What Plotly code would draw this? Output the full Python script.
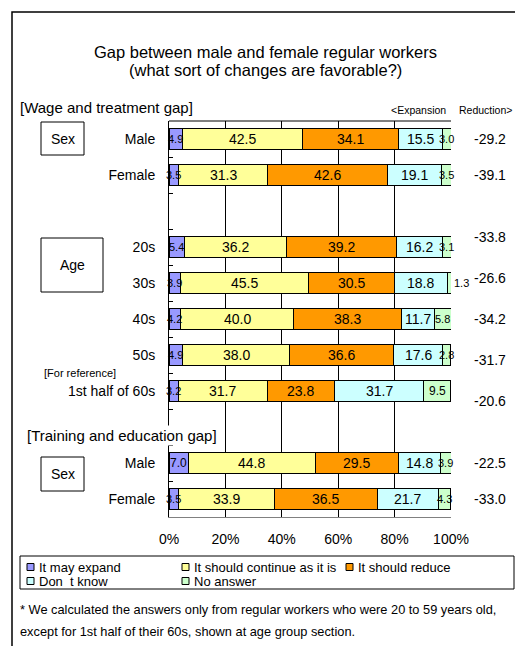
import plotly.graph_objects as go

# answers (stack order, left to right)
answer_labels = ["It may expand", "It should continue as it is", "It should reduce",
                 "Don\u00a0 t know", "No answer"]
colors = ["#9999FF", "#FFFF99", "#FF9900", "#CCFFFF", "#CCFFCC"]

# row groups, a blank row is left between groups
groups = [
    ("Wage and treatment - sex", ["Male", "Female"]),
    ("Wage and treatment - age", ["20s", "30s", "40s", "50s", "1st half of 60s"]),
    ("Training and education - sex", ["Male", "Female"]),
]

may_expand     = [4.9, 3.5, 5.4, 3.9, 4.2, 4.9, 3.2, 7.0, 3.5]
continue_as_is = [42.5, 31.3, 36.2, 45.5, 40.0, 38.0, 31.7, 44.8, 33.9]
should_reduce  = [34.1, 42.6, 39.2, 30.5, 38.3, 36.6, 23.8, 29.5, 36.5]
dont_know      = [15.5, 19.1, 16.2, 18.8, 11.7, 17.6, 31.7, 14.8, 21.7]
no_answer      = [3.0, 3.5, 3.1, 1.3, 5.8, 2.8, 9.5, 3.9, 4.3]
expansion_minus_reduction = [-29.2, -39.1, -33.8, -26.6, -34.2, -31.7, -20.6, -22.5, -33.0]

x_ticks = [0, 20, 40, 60, 80, 100]
x_tick_labels = ["0%", "20%", "40%", "60%", "80%", "100%"]

series = [may_expand, continue_as_is, should_reduce, dont_know, no_answer]

# ---- layout helpers (page pixel -> paper) ----
PAGE = 8                      # default body margin of the html page
FIG_W, FIG_H = 523 - PAGE, 646 - PAGE
L, R, T, B = 169 - PAGE, 72, 121 - PAGE, 129
PW, PH = FIG_W - L - R, FIG_H - T - B
FONT = "Liberation Sans, Arial, sans-serif"


def px(x):
    return (x - PAGE - L) / PW


def py(y):
    return 1 - (y - PAGE - T) / PH


# row positions built from the groups
rows, names, group_idx, pos_in_group = [], [], [], []
r = 0
for gi, (_, cats) in enumerate(groups):
    if gi:
        r += 1
    for k, c in enumerate(cats):
        rows.append(r)
        names.append(c)
        group_idx.append(gi)
        pos_in_group.append(k)
        r += 1
n_rows = r

fig = go.Figure()
for name, vals, col in zip(answer_labels, series, colors):
    fig.add_bar(y=rows, x=vals, orientation="h", name=name, showlegend=False,
                marker=dict(color=col, line=dict(color="black", width=1)))

annotations = []

# segment labels
for j, y in enumerate(rows):
    cum = 0
    for vals in series:
        v = vals[j]
        size = 14 if v >= 10 else (12 if v >= 6 else 11)
        if v < 2:
            annotations.append(dict(x=cum + v, y=y, xref="x", yref="y", text=f"{v:.1f}",
                                    xanchor="left", xshift=1, showarrow=False,
                                    font=dict(size=size)))
        else:
            annotations.append(dict(x=cum + v / 2, y=y, xref="x", yref="y", text=f"{v:.1f}",
                                    showarrow=False, font=dict(size=size)))
        cum += v

# expansion - reduction column on the right
for j, y in enumerate(rows):
    shift = (2 - pos_in_group[j]) * 5 if group_idx[j] == 1 else 0
    annotations.append(dict(x=px(490), y=y, xref="paper", yref="y", xanchor="center",
                            text=f"{expansion_minus_reduction[j]:.1f}",
                            showarrow=False, yshift=shift, font=dict(size=14)))


def note(text, x, y, size=14, anchor="left", **kw):
    annotations.append(dict(x=px(x), y=py(y), xref="paper", yref="paper", text=text,
                            xanchor=anchor, yanchor="middle", showarrow=False,
                            font=dict(size=size), **kw))


note("Gap between male and female regular workers", 265.5, 52, 16.5, "center")
note("(what sort of changes are favorable?)", 265.5, 70, 16.5, "center")
note("[Wage and treatment gap]", 18, 108, 15)
note("&lt;Expansion", 448, 110, 10.5, "right")
note("Reduction&gt;", 457, 110, 10.5, "left")
note("Sex", 62.5, 138.5, 14, "center")
note("Age", 72, 265, 14, "center")
note("Sex", 62.5, 474, 14, "center")
note("[For reference]", 42, 373, 11)
note("[Training and education gap]", 25, 435, 15, bgcolor="white")
note("* We calculated the answers only from regular workers who were 20 to 59 years old,",
     18, 609, 12.8)
note("except for 1st half of their 60s, shown at age group section.", 18, 631, 12.8)

shapes = []


def box(x0, y0, x1, y1, color="black", width=1):
    shapes.append(dict(type="rect", xref="paper", yref="paper", x0=px(x0), x1=px(x1),
                       y0=py(y0), y1=py(y1), line=dict(color=color, width=width)))


box(12, 12, 518, 652, width=1.5)         # outer frame
box(41, 122, 84, 155)                    # Sex
box(41, 238, 103, 292)                   # Age
box(41, 457, 84, 491)                    # Sex (training)
box(20, 556, 514, 589)                   # legend frame
# top edge of the plot area
shapes.append(dict(type="line", xref="paper", yref="paper", x0=0, x1=1, y0=1, y1=1,
                   line=dict(color="black", width=1)))

# legend (3 columns)
col_x = [27, 182, 346]
row_y = [567, 581]
for i, (lab, col) in enumerate(zip(answer_labels, colors)):
    cx, cy = col_x[i % 3], row_y[i // 3]
    shapes.append(dict(type="rect", xref="paper", yref="paper", x0=px(cx), x1=px(cx + 7),
                       y0=py(cy - 3.5), y1=py(cy + 3.5), fillcolor=col,
                       line=dict(color="black", width=1)))
    note(lab, cx + 10, cy, 13)

fig.update_layout(
    width=FIG_W, height=FIG_H,
    margin=dict(l=L, r=R, t=T, b=B),
    barmode="stack", bargap=0.44,
    paper_bgcolor="white", plot_bgcolor="white",
    font=dict(family=FONT, color="black", size=14),
    annotations=annotations, shapes=shapes,
    showlegend=False,
)
fig.update_xaxes(range=[0, 100], tickvals=x_ticks, ticktext=x_tick_labels,
                 showgrid=True, gridcolor="black", gridwidth=1, zeroline=False,
                 showline=True, linecolor="#808080", linewidth=1,
                 ticks="", ticklabelstandoff=9, tickfont=dict(size=14))
fig.update_yaxes(range=[n_rows - 0.5, -0.5], tickvals=rows, ticktext=names,
                 showgrid=False, zeroline=False, showline=True, linecolor="black",
                 linewidth=1, ticks="", ticklabelstandoff=10, tickfont=dict(size=14),
                 minor=dict(tickvals=[k + 0.5 for k in range(n_rows - 1)],
                            ticks="inside", ticklen=4, tickcolor="black"))

fig.write_html("out.html")
